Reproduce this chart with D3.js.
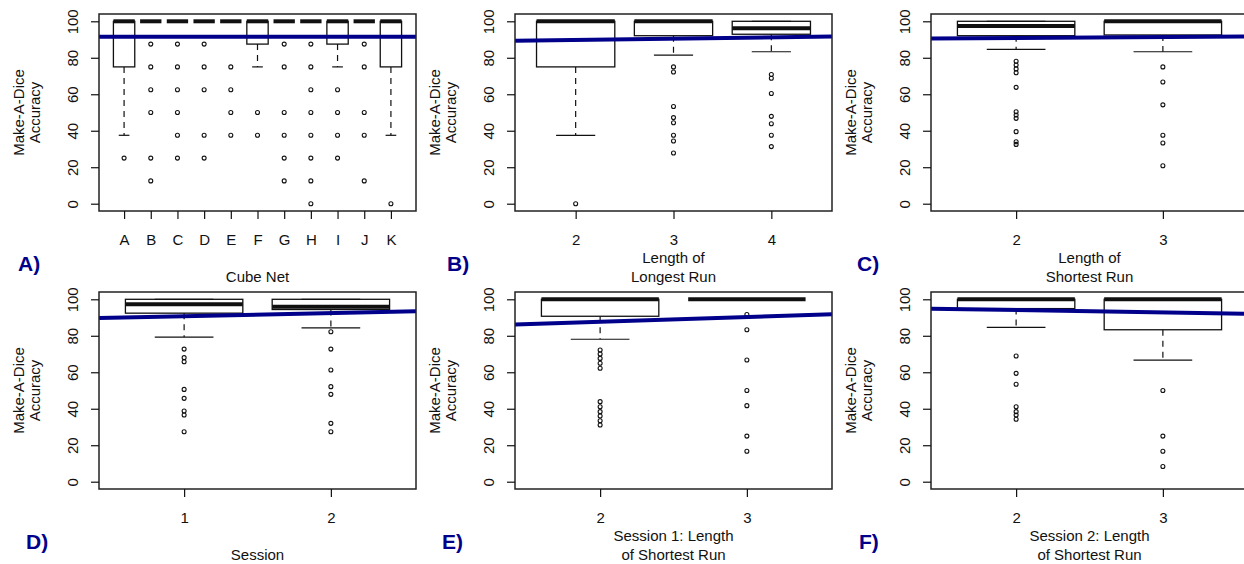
<!DOCTYPE html>
<html>
<head>
<meta charset="utf-8">
<script src="https://cdn.jsdelivr.net/npm/d3@7"></script>
<style>
  html, body { margin: 0; padding: 0; background: #fff; }
  svg { display: block; font-family: "Liberation Sans", Arial, sans-serif; }
</style>
</head>
<body>
<svg id="chart" width="1244" height="564"></svg>
<script>
// ---- Data -------------------------------------------------------------
// Box statistics per group: [lower whisker, Q1, median, Q3, upper whisker]
// Trend: fitted accuracy at the first and last group of each panel.

// A) Cube net
const netLabels = ["A", "B", "C", "D", "E", "F", "G", "H", "I", "J", "K"];
const netStats = [
  [37.5, 75, 100, 100, 100],
  [100, 100, 100, 100, 100],
  [100, 100, 100, 100, 100],
  [100, 100, 100, 100, 100],
  [100, 100, 100, 100, 100],
  [75, 87.5, 100, 100, 100],
  [100, 100, 100, 100, 100],
  [100, 100, 100, 100, 100],
  [75, 87.5, 100, 100, 100],
  [100, 100, 100, 100, 100],
  [37.5, 75, 100, 100, 100]
];
const netOutliers = [
  [25],
  [87.5, 75, 62.5, 50, 25, 12.5],
  [87.5, 75, 62.5, 50, 37.5, 25],
  [87.5, 75, 62.5, 37.5, 25],
  [75, 62.5, 50, 37.5],
  [50, 37.5],
  [87.5, 75, 50, 37.5, 25, 12.5],
  [87.5, 75, 62.5, 50, 37.5, 25, 12.5, 0],
  [62.5, 50, 37.5, 25],
  [87.5, 75, 50, 37.5, 12.5],
  [0]
];
const netTrend = [91.5, 91.5];

// B) Length of longest run
const longestLabels = ["2", "3", "4"];
const longestStats = [
  [37.5, 75, 100, 100, 100],
  [81.5, 92.1, 100, 100, 100],
  [83.3, 92.9, 96.2, 100, 100]
];
const longestOutliers = [
  [0],
  [75, 72.2, 53.3, 47.2, 44.4, 37.5, 34.4, 27.8],
  [70.8, 68.8, 60.4, 47.9, 43.8, 37.5, 31.3]
];
const longestTrend = [89.8, 91.2];

// C) Length of shortest run
const shortestLabels = ["2", "3"];
const shortestStats = [
  [84.6, 92.1, 97.4, 100, 100],
  [83.3, 92.5, 100, 100, 100]
];
const shortestOutliers = [
  [78.1, 76.0, 73.9, 71.8, 63.8, 50.4, 48.6, 46.8, 39.5, 34.0, 32.5],
  [75, 66.7, 54.2, 37.5, 33.3, 20.8]
];
const shortestTrend = [90.9, 91.4];

// D) Session
const sessionLabels = ["1", "2"];
const sessionStats = [
  [79.3, 92.4, 97.3, 100, 100],
  [84.3, 94.4, 95.9, 100, 100]
];
const sessionOutliers = [
  [72.7, 68.0, 65.8, 50.6, 45.7, 38.8, 36.6, 27.4],
  [82.2, 72.7, 61.2, 52.1, 47.9, 32.0, 27.4]
];
const sessionTrend = [90.7, 92.4];

// E) Session 1: length of shortest run
const s1Labels = ["2", "3"];
const s1Stats = [
  [78.1, 90.7, 100, 100, 100],
  [100, 100, 100, 100, 100]
];
const s1Outliers = [
  [72.2, 70.0, 67.6, 64.9, 62.2, 43.9, 41.1, 38.4, 36.0, 33.4, 31.1],
  [91.7, 83.3, 66.7, 50, 41.7, 25, 16.7]
];
const s1Trend = [87.7, 90.3];

// F) Session 2: length of shortest run
const s2Labels = ["2", "3"];
const s2Stats = [
  [84.6, 94.9, 100, 100, 100],
  [66.7, 83.3, 100, 100, 100]
];
const s2Outliers = [
  [68.9, 59.4, 53.4, 41.1, 38.4, 36.6, 34.2],
  [50, 25, 16.7, 8.3]
];
const s2Trend = [94.1, 92.8];

const yTicks = [0, 20, 40, 60, 80, 100];
const yTitle = ["Make-A-Dice", "Accuracy"];

const panels = [
  { tag: "A)", labels: netLabels, stats: netStats, outliers: netOutliers, trend: netTrend, xTitle: ["Cube Net"], col: 0, row: 0, tagX: 18 },
  { tag: "B)", labels: longestLabels, stats: longestStats, outliers: longestOutliers, trend: longestTrend, xTitle: ["Length of", "Longest Run"], col: 1, row: 0, tagX: 447 },
  { tag: "C)", labels: shortestLabels, stats: shortestStats, outliers: shortestOutliers, trend: shortestTrend, xTitle: ["Length of", "Shortest Run"], col: 2, row: 0, tagX: 857 },
  { tag: "D)", labels: sessionLabels, stats: sessionStats, outliers: sessionOutliers, trend: sessionTrend, xTitle: ["Session"], col: 0, row: 1, tagX: 26 },
  { tag: "E)", labels: s1Labels, stats: s1Stats, outliers: s1Outliers, trend: s1Trend, xTitle: ["Session 1: Length", "of Shortest Run"], col: 1, row: 1, tagX: 442 },
  { tag: "F)", labels: s2Labels, stats: s2Stats, outliers: s2Outliers, trend: s2Trend, xTitle: ["Session 2: Length", "of Shortest Run"], col: 2, row: 1, tagX: 859 }
];

// ---- Layout -----------------------------------------------------------
const colLeft = [99, 515, 931];
const rowTop = [14, 292];
const plotW = 317, plotH = 197;
const ink = "#111";
const trendColor = "#00008B";
const fontSize = 15;

const svg = d3.select("#chart");

panels.forEach((p, pi) => {
  const left = colLeft[p.col], top = rowTop[p.row];
  const n = p.labels.length;
  const padX = 0.04 * n;
  const x = d3.scaleLinear().domain([0.5 - padX, n + 0.5 + padX]).range([left, left + plotW]);
  const y = d3.scaleLinear().domain([-4, 104]).range([top + plotH, top]);
  const ux = x(1) - x(0);

  const g = svg.append("g");

  const clipId = "clip" + pi;
  svg.append("clipPath").attr("id", clipId)
    .append("rect").attr("x", left).attr("y", top).attr("width", plotW).attr("height", plotH);

  const groups = p.stats.map((s, i) => ({ pos: i + 1, lo: s[0], q1: s[1], med: s[2], q3: s[3], hi: s[4], out: p.outliers[i] }));

  // whiskers (dashed)
  groups.forEach(d => {
    if (d.lo < d.q1) {
      g.append("line").attr("x1", x(d.pos)).attr("x2", x(d.pos)).attr("y1", y(d.q1)).attr("y2", y(d.lo))
        .attr("stroke", ink).attr("stroke-width", 1.2).attr("stroke-dasharray", "6,5");
    }
    if (d.hi > d.q3) {
      g.append("line").attr("x1", x(d.pos)).attr("x2", x(d.pos)).attr("y1", y(d.q3)).attr("y2", y(d.hi))
        .attr("stroke", ink).attr("stroke-width", 1.2).attr("stroke-dasharray", "6,5");
    }
  });

  // staples
  g.selectAll(null).data(groups.flatMap(d => [{ pos: d.pos, v: d.lo }, { pos: d.pos, v: d.hi }]))
    .join("line")
    .attr("x1", d => x(d.pos - 0.2)).attr("x2", d => x(d.pos + 0.2))
    .attr("y1", d => y(d.v)).attr("y2", d => y(d.v))
    .attr("stroke", ink).attr("stroke-width", 1.2);

  // boxes
  g.selectAll(null).data(groups).join("rect")
    .attr("x", d => x(d.pos - 0.4)).attr("width", 0.8 * ux)
    .attr("y", d => y(d.q3)).attr("height", d => y(d.q1) - y(d.q3))
    .attr("fill", "none").attr("stroke", ink).attr("stroke-width", 1.3);

  // medians
  g.selectAll(null).data(groups).join("line")
    .attr("x1", d => x(d.pos - 0.4)).attr("x2", d => x(d.pos + 0.4))
    .attr("y1", d => y(d.med)).attr("y2", d => y(d.med))
    .attr("stroke", ink).attr("stroke-width", 4);

  // outliers
  g.selectAll(null).data(groups.flatMap(d => d.out.map(v => ({ pos: d.pos, v }))))
    .join("circle")
    .attr("cx", d => x(d.pos)).attr("cy", d => y(d.v)).attr("r", 2)
    .attr("fill", "none").attr("stroke", ink).attr("stroke-width", 1.1);

  // fitted trend line across the plot region
  const slope = n > 1 ? (p.trend[1] - p.trend[0]) / (n - 1) : 0;
  const fit = v => p.trend[0] + slope * (v - 1);
  const [d0, d1] = x.domain();
  g.append("line").attr("clip-path", `url(#${clipId})`)
    .attr("x1", x(d0)).attr("y1", y(fit(d0)))
    .attr("x2", x(d1)).attr("y2", y(fit(d1)))
    .attr("stroke", trendColor).attr("stroke-width", 4);

  // frame
  g.append("rect").attr("x", left).attr("y", top).attr("width", plotW).attr("height", plotH)
    .attr("fill", "none").attr("stroke", "#222").attr("stroke-width", 1.5);

  // x axis
  const xAxis = d3.axisBottom(x)
    .tickValues(d3.range(1, n + 1))
    .tickFormat(v => p.labels[v - 1])
    .tickSize(8).tickPadding(15);
  const gx = g.append("g").attr("transform", `translate(0,${top + plotH})`).call(xAxis);
  gx.select(".domain").remove();
  gx.selectAll(".tick line").attr("stroke", ink).attr("stroke-width", 1.2);
  gx.selectAll(".tick text").attr("font-size", fontSize).attr("fill", ink)
    .attr("font-family", "Liberation Sans, Arial, sans-serif");

  // y axis
  const yAxis = d3.axisLeft(y).tickValues(yTicks).tickSize(8);
  const gy = g.append("g").attr("transform", `translate(${left},0)`).call(yAxis);
  gy.select(".domain").remove();
  gy.selectAll(".tick line").attr("stroke", ink).attr("stroke-width", 1.2);
  gy.selectAll(".tick text")
    .attr("font-size", fontSize).attr("fill", ink)
    .attr("font-family", "Liberation Sans, Arial, sans-serif")
    .attr("text-anchor", "middle")
    .attr("transform", "rotate(-90)")
    .attr("x", 0).attr("y", -21.5).attr("dy", 0);

  // y title (two lines, rotated)
  const cy = top + plotH / 2;
  yTitle.forEach((t, k) => {
    const bx = left - 75 + k * 16;
    g.append("text").attr("transform", `translate(${bx},${cy}) rotate(-90)`)
      .attr("text-anchor", "middle").attr("font-size", fontSize).attr("fill", ink).text(t);
  });

  // x title
  const cx = left + plotW / 2;
  const lines = p.xTitle;
  lines.forEach((t, k) => {
    const by = top + plotH + 70.5 - (lines.length - 1 - k) * 18.5;
    g.append("text").attr("x", cx).attr("y", by).attr("text-anchor", "middle")
      .attr("font-size", fontSize).attr("fill", ink).text(t);
  });

  // panel tag
  g.append("text").attr("x", p.tagX).attr("y", top + 257)
    .attr("font-size", 21).attr("font-weight", "bold").attr("fill", trendColor).text(p.tag);
});
</script>
</body>
</html>
